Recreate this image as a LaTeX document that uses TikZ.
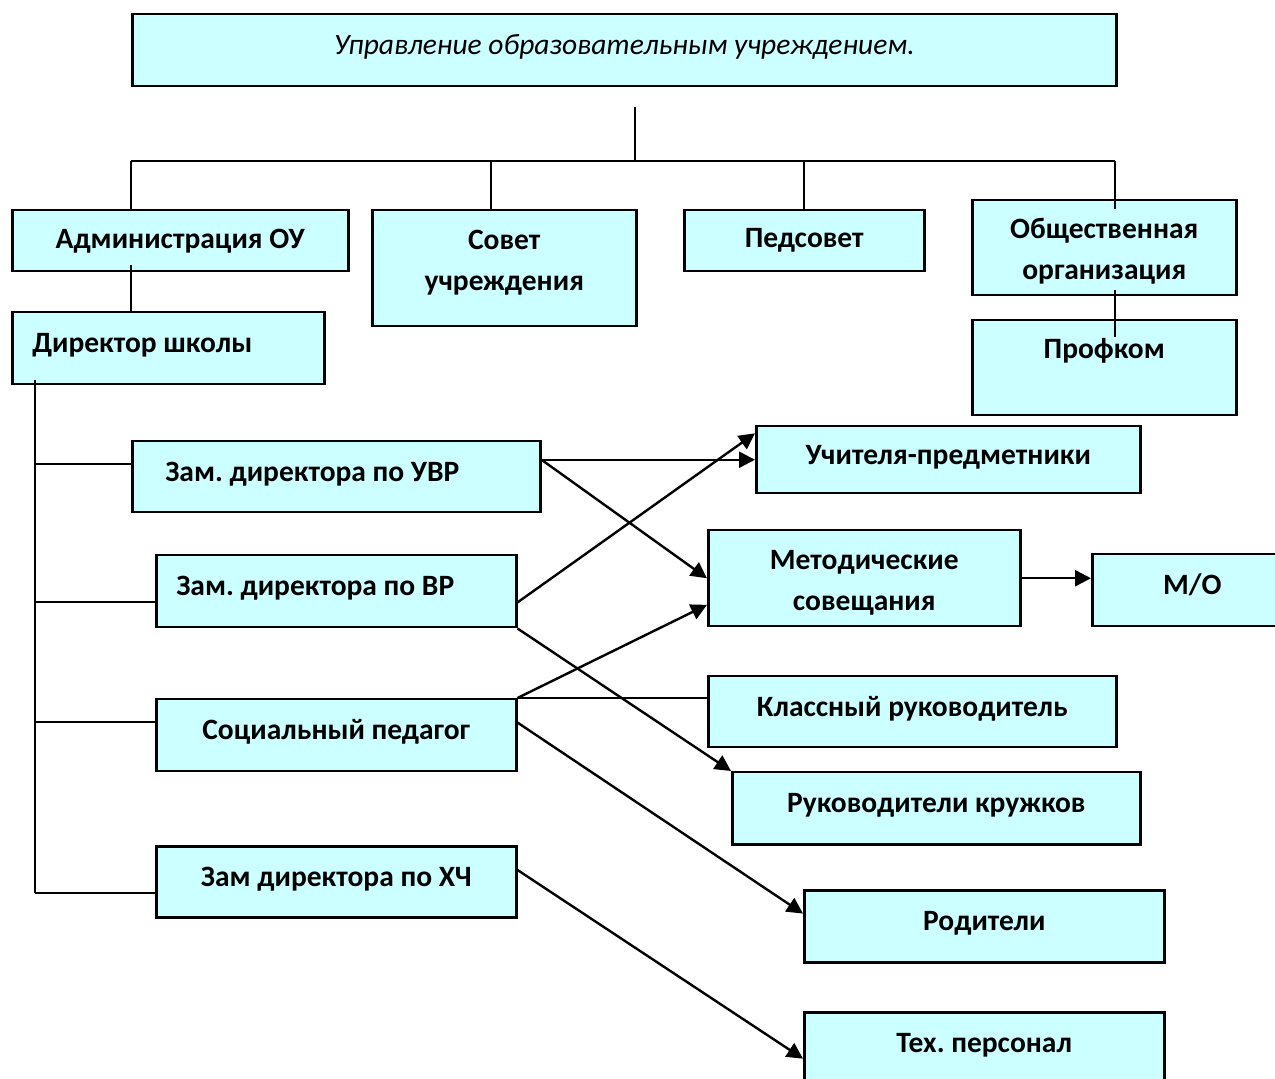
\documentclass[tikz,border=0pt]{standalone}
\usepackage{fontspec}
\setmainfont{Carlito}
\frenchspacing
\usetikzlibrary{arrows.meta,calc}
\definecolor{boxcyan}{HTML}{CCFFFF}

\begin{document}
\begin{tikzpicture}[x=0.5pt, y=-0.5pt,
  box/.style={draw=black, fill=boxcyan, line width=1.25pt, inner sep=0pt, anchor=north west, align=center, font=\fontsize{14.75}{20.5}\selectfont\bfseries},
  oneline/.style={text height=10pt, text depth=5.6pt},
  txt/.style={inner sep=0pt, align=center, font=\fontsize{14.75}{20.5}\selectfont\bfseries},
  link/.style={line width=1.2pt},
  arr/.style={line width=1.2pt, -{Triangle[length=8pt,width=8pt]}}]
\useasboundingbox (0,0) rectangle (1275,1079);

% top row
\node[box, oneline, minimum width=492pt, minimum height=36pt, font=\fontsize{14.75}{18}\selectfont\itshape] (title) at (131,13) {Управление образовательным учреждением.};
\node[box, minimum width=168pt, minimum height=30.5pt] (adm) at (11,209) {Администрация ОУ};
\node[box, minimum width=132pt, minimum height=58pt, label={[txt, yshift=2.75pt]center:Совет\\учреждения}] (sov) at (371,209) {};
\node[box, minimum width=120pt, minimum height=30.5pt] (ped) at (683,209) {Педсовет};
\node[box, minimum width=132pt, minimum height=47.5pt, label={[txt, yshift=-1.75pt]center:Общественная\\организация}] (obs) at (971,199) {};
\node[box, minimum width=132pt, minimum height=47.5pt, label={[txt, yshift=8.5pt]center:Профком}] (prof) at (971,319) {};
\node[box, oneline, minimum width=156pt, minimum height=36pt, text width=136pt, inner xsep=10pt, align=flush left] (dir) at (11,311) {Директор школы};

% deputies
\node[box, oneline, minimum width=204pt, minimum height=35.5pt, text width=171pt, inner xsep=16.5pt, align=flush left] (uvr) at (131,440) {Зам. директора по УВР};
\node[box, oneline, minimum width=180pt, minimum height=36pt, text width=160pt, inner xsep=10pt, align=flush left] (vr) at (155,554) {Зам. директора по ВР};
\node[box, oneline, minimum width=180pt, minimum height=36pt] (soc) at (155,698) {Социальный педагог};
\node[box, oneline, minimum width=180pt, minimum height=35.5pt] (xch) at (155,845) {Зам директора по ХЧ};

% right column
\node[box, oneline, minimum width=192pt, minimum height=33.5pt] (uch) at (755,425) {Учителя-предметники};
\node[box, minimum width=156pt, minimum height=48pt, label={[txt, yshift=-2.5pt]center:Методические\\совещания}] (met) at (707,529) {};
\node[box, oneline, minimum width=100pt, minimum height=36pt] (mo) at (1091,553) {М/О};
\node[box, oneline, minimum width=204pt, minimum height=35.5pt] (kla) at (707,675) {Классный руководитель};
\node[box, oneline, minimum width=204pt, minimum height=36pt] (kru) at (731,771) {Руководители кружков};
\node[box, oneline, minimum width=180pt, minimum height=36pt] (rod) at (803,889) {Родители};
\node[box, oneline, minimum width=180pt, minimum height=36pt] (tex) at (803,1011) {Тех. персонал};

% tree
\coordinate (stem) at (635,107);
\coordinate (b1) at (131,161);
\coordinate (b2) at (491,161);
\coordinate (b4) at (1115,161);
\draw[link] (stem) -- (stem |- b1);
\draw[link] (b1) -- (b4);
\draw[link] (b1) -- (b1 |- adm.north);
\draw[link] (b2) -- (b2 |- sov.north);
\draw[link] (ped.north |- b1) -- (ped.north);
\draw[link, shorten >=-5pt] (b4) -- (b4 |- obs.north);
\draw[link, shorten <=-3.5pt] (adm.south -| b1) -- (dir.north -| b1);
\draw[link, shorten <=-3pt, shorten >=-9pt] (obs.south -| b4) -- (prof.north -| b4);

% director trunk
\coordinate (t1) at (35,464);
\coordinate (t2) at (35,602);
\coordinate (t3) at (35,722);
\coordinate (t4) at (35,893);
\draw[link, shorten <=-2.5pt] (dir.south -| t4) -- (t4);
\foreach \t/\n in {t1/uvr, t2/vr, t3/soc, t4/xch}
  \draw[link] (\t) -- (\t -| \n.west);

% arrows
\draw[arr] (uvr.east |- uch.west) -- (uch.west);
\draw[arr] (uvr.east |- uch.west) -- (met.west);
\draw[arr] ($(vr.north east)!0.65!(vr.south east)$) -- ($(uch.north west)!0.12!(uch.south west)$);
\draw[arr] (vr.south east) -- (kru.north west);
\draw[arr] (soc.north east) -- ($(met.north west)!0.77!(met.south west)$);
\draw[link] (soc.north east) -- (soc.north east -| kla.west);
\draw[arr] ($(soc.north east)!0.33!(soc.south east)$) -- ($(rod.north west)!0.33!(rod.south west)$);
\draw[arr] ($(xch.north east)!0.34!(xch.south east)$) -- ($(tex.north west)!0.64!(tex.south west)$);
\draw[arr] (met.east) -- (met.east -| mo.west);
\end{tikzpicture}
\end{document}
